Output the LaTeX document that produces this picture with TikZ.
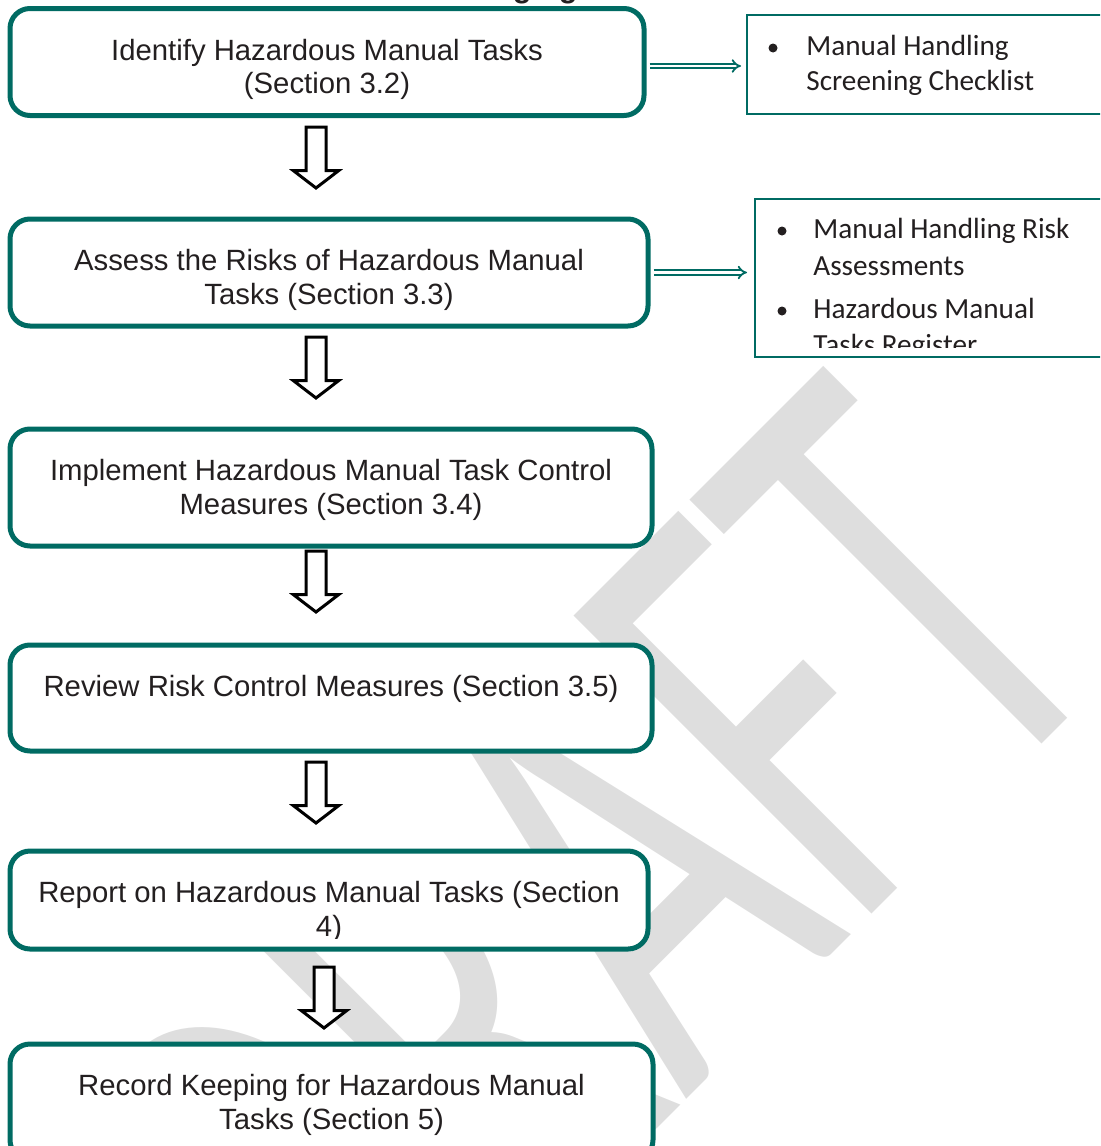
\documentclass[tikz,border=0pt]{standalone}
\usepackage{fontspec}
\setmainfont{Liberation Sans}
\newfontfamily\calfont{Carlito}
\usetikzlibrary{shapes.arrows,arrows.meta,calc}
\definecolor{teal1}{HTML}{006B63}
\definecolor{ink}{HTML}{231F20}
\definecolor{wmgray}{HTML}{DEDEDE}
\begin{document}
\begin{tikzpicture}[x=0.5pt,y=-0.5pt,
  mainbox/.style={draw=teal1, line width=2.5pt, rounded corners=10pt, fill=white, inner sep=0pt, outer sep=0pt},
  maintext/.style={font=\fontsize{14.65pt}{17pt}\selectfont, text=ink, inner sep=0pt, anchor=base},
  sidebox/.style={draw=teal1, line width=1pt, fill=white, inner sep=0pt, outer sep=0pt},
  sidetext/.style={font=\calfont\fontsize{14.6pt}{17.5pt}\selectfont, text=ink, inner sep=0pt, anchor=base west},
  bulletdot/.style={circle, fill=ink, inner sep=0pt, minimum size=4.5pt},
  blockarrow/.style={single arrow, draw=black, line width=1.5pt, fill=white, inner xsep=0pt, inner ysep=4.25pt, outer sep=0pt, minimum height=30.5pt, single arrow head extend=6.25pt, single arrow tip angle=105, rotate=-90, anchor=tail},
  dblarrow/.style={draw=teal1, line width=0.9pt, double=white, double distance=1.3pt, -{Implies}},
  wmtext/.style={font=\calfont\fontsize{204pt}{204pt}\selectfont, text=wmgray, inner sep=0pt, anchor=base west, rotate=45}]
\useasboundingbox (0,0) rectangle (1100,1146);
\clip (0,0) rectangle (1100,1146);

% watermark
\node[wmtext] (wm) at (351,1435) {\scalebox{1}[1.61]{DRAFT}};

% heading fragment (only descenders visible)
\node[font=\bfseries\fontsize{15.35pt}{18pt}\selectfont, text=ink, inner sep=0pt, anchor=base west] (head) at (434,-2.5) {Managing};

% main boxes
\node[mainbox, minimum width=317pt, minimum height=53.5pt] (b1) at (327,62) {};
\node[mainbox, minimum width=319pt, minimum height=53.5pt] (b2) at (329,272.5) {};
\node[mainbox, minimum width=321pt, minimum height=58.5pt] (b3) at (331,487.5) {};
\node[mainbox, minimum width=321pt, minimum height=53pt] (b4) at (331,698) {};
\node[mainbox, minimum width=319pt, minimum height=49pt] (b5) at (329,900) {};
\node[mainbox, minimum width=321.5pt, minimum height=58pt] (b6) at (331.5,1102) {};

\node[maintext] (t1a) at ($(b1.north)+(0,51.5)$) {Identify Hazardous Manual Tasks};
\node[maintext] (t1b) at ($(b1.north)+(0,85)$) {(Section 3.2)};
\node[maintext] (t2a) at ($(b2.north)+(0,51.5)$) {Assess the Risks of Hazardous Manual};
\node[maintext] (t2b) at ($(b2.north)+(0,85)$) {Tasks (Section 3.3)};
\node[maintext] (t3a) at ($(b3.north)+(0,51.5)$) {Implement Hazardous Manual Task Control};
\node[maintext] (t3b) at ($(b3.north)+(0,85)$) {Measures (Section 3.4)};
\node[maintext] (t4a) at ($(b4.north)+(0,51.5)$) {Review Risk Control Measures (Section 3.5)};
\begin{scope}
\clip (b5.north west) rectangle ($(b5.east)+(0,38)$);
\node[maintext] (t5a) at ($(b5.north)+(0,51.5)$) {Report on Hazardous Manual Tasks (Section};
\node[maintext] (t5b) at ($(b5.north)+(0,85)$) {4)};
\end{scope}
\node[maintext] (t6a) at ($(b6.north)+(0,51.5)$) {Record Keeping for Hazardous Manual};
\node[maintext] (t6b) at ($(b6.north)+(0,85)$) {Tasks (Section 5)};

% block arrows
\node[blockarrow] (a1) at ($(b1.south)+(-11,11.5)$) {};
\node[blockarrow] (a2) at ($(b2.south)+(-13,11)$) {};
\node[blockarrow] (a3) at ($(b3.south)+(-15,5)$) {};
\node[blockarrow] (a4) at ($(b4.south)+(-15,11)$) {};
\node[blockarrow] (a5) at ($(b5.south)+(-5,18)$) {};

% side boxes
\node[sidebox, minimum width=186.5pt, minimum height=49.5pt] (rb1) at (933.5,64.5) {};
\node[sidebox, minimum width=182.5pt, minimum height=79pt] (rb2) at (937.5,278) {};

\node[bulletdot] (d1) at ($(rb1.north west)+(26,33)$) {};
\node[sidetext] (s1a) at ($(rb1.north west)+(59,40)$) {Manual Handling};
\node[sidetext] (s1b) at ($(rb1.north west)+(59,75)$) {Screening Checklist};

\begin{scope}
\clip (rb2.north west) rectangle ($(rb2.north east)+(0,148)$);
\node[bulletdot] (d2) at ($(rb2.north west)+(27,32)$) {};
\node[sidetext] (s2a) at ($(rb2.north west)+(58,39)$) {Manual Handling Risk};
\node[sidetext] (s2b) at ($(rb2.north west)+(58,76)$) {Assessments};
\node[bulletdot] (d3) at ($(rb2.north west)+(27,112)$) {};
\node[sidetext] (s2c) at ($(rb2.north west)+(58,119)$) {Hazardous Manual};
\node[sidetext] (s2d) at ($(rb2.north west)+(58,155)$) {Tasks Register};
\end{scope}

% double arrows
\draw[dblarrow, shorten <=2.75pt, shorten >=3pt] ($(b1.east)+(0,4)$) -- ($(b1.east -| rb1.west)+(0,4)$);
\draw[dblarrow, shorten <=2.75pt, shorten >=4pt] (b2.east) -- (b2.east -| rb2.west);
\end{tikzpicture}
\end{document}
